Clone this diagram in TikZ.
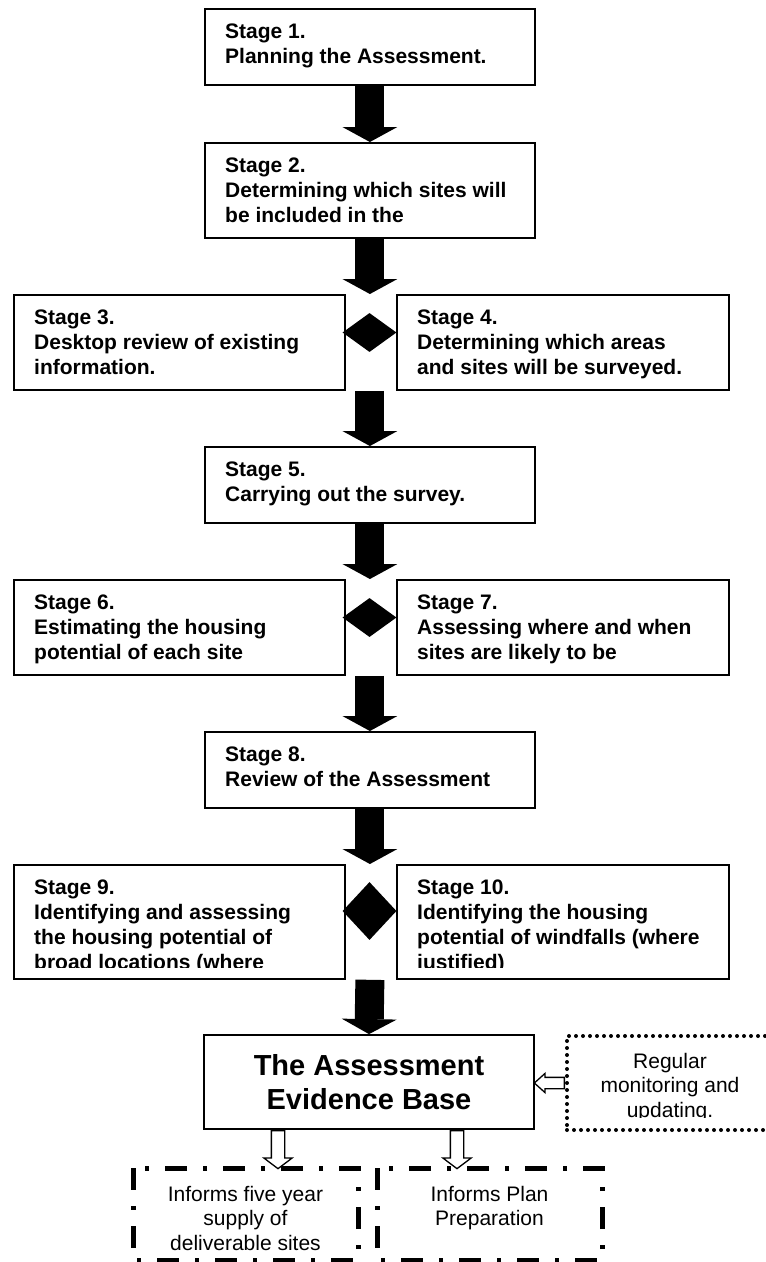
\documentclass[tikz,border=0pt]{standalone}
\usepackage{fontspec}
\setmainfont{Liberation Sans}
\usetikzlibrary{arrows.meta,shapes}
\tikzset{
  stagebox/.style={draw, line width=1.8pt, inner sep=0pt, anchor=north west},
  stagetext/.style={anchor=north west, inner sep=0pt, align=left, font=\fontsize{21}{25}\selectfont\bfseries},
  blockarrow/.style={line width=29pt, -{Triangle[length=15pt,width=55pt,line width=0pt]}},
  junction/.style={diamond, fill=black, inner sep=0pt, minimum width=54pt},
  hollowarrow/.style={single arrow, draw, fill=white, line width=1.3pt, inner xsep=0pt, single arrow head indent=0pt, anchor=tail},
  frame/.style={inner sep=0pt, outer sep=0pt, anchor=north west},
  dashdot/.style={line width=5pt, line join=miter, dash pattern=on 22pt off 16pt on 4pt off 16pt},
  dotbox/.style={draw, line width=4pt, line cap=round, dash pattern=on 0pt off 7pt, inner sep=0pt, anchor=north west},
  plaintext/.style={anchor=north, inner sep=0pt, align=center, font=\fontsize{21}{24.5}\selectfont}
}
\newcommand*{\stage}[6]{%
  \node[stagebox, minimum width=#5pt, minimum height=#4pt] (#1) at (#2,#3) {};
  \begin{scope}
    \clip (#2,#3) rectangle ++(#5,#4-11);
    \node[stagetext] (#1t) at ([shift={(21,16)}]#1.north west) {#6};
  \end{scope}}

\begin{document}
\begin{tikzpicture}[x=1pt,y=-1pt]
\useasboundingbox (0,0) rectangle (766,1262);

\stage{s1}{204}{8}{76}{330}{Stage 1.\\Planning the Assessment.}
\stage{s2}{204}{142}{95}{330}{Stage 2.\\Determining which sites will\\be included in the}
\stage{s3}{13}{294}{95}{331}{Stage 3.\\Desktop review of existing\\information.}
\stage{s4}{396}{294}{95}{332}{Stage 4.\\Determining which areas\\and sites will be surveyed.}
\stage{s5}{204}{446}{76}{330}{Stage 5.\\Carrying out the survey.}
\stage{s6}{13}{579}{95}{331}{Stage 6.\\Estimating the housing\\potential of each site}
\stage{s7}{396}{579}{95}{332}{Stage 7.\\Assessing where and when\\sites are likely to be}
\stage{s8}{204}{731}{76}{330}{Stage 8.\\Review of the Assessment}
\stage{s9}{13}{864}{114}{331}{Stage 9.\\Identifying and assessing\\the housing potential of\\broad locations (where}
\stage{s10}{396}{864}{114}{332}{Stage 10.\\Identifying the housing\\potential of windfalls (where\\justified)}

\node[junction, minimum height=39pt] (d34) at (369.5,332.5) {};
\node[junction, minimum height=39pt] (d67) at (369.5,617.5) {};
\node[junction, minimum height=58pt] (d910) at (369.5,911) {};

\node[draw, line width=1.8pt, minimum width=330pt, minimum height=94pt, align=center,
  font=\fontsize{29}{34}\selectfont\bfseries] (ev) at (369,1082) {The Assessment\\Evidence Base};

\draw[blockarrow] (s1.south) -- (s2.north);
\draw[blockarrow] (s2.south) -- (s2.south |- s3.north);
\draw[blockarrow] (s2.south |- s3.south) -- (s5.north);
\draw[blockarrow] (s5.south) -- (s5.south |- s6.north);
\draw[blockarrow] (s5.south |- s6.south) -- (s8.north);
\draw[blockarrow] (s8.south) -- (s8.south |- s9.north);
\draw[blockarrow] (s8.south |- s9.south) -- (ev.north);

\node[dotbox, minimum width=206pt, minimum height=94pt] (reg) at (565,1034) {};
\begin{scope}
  \clip (565,1034) rectangle (771,1117);
  \node[plaintext] (regt) at ([shift={(0,19)}]reg.north) {Regular\\monitoring and\\updating.};
\end{scope}

\node[frame, minimum width=225pt, minimum height=92pt] (fa) at (133,1168) {};
\node[frame, minimum width=225pt, minimum height=92pt] (fb) at (377,1168) {};
\draw[dashdot] (fa.north west) -- (fa.south west) -- (fa.south east) -- (fa.north east) -- cycle;
\draw[dashdot] (fb.north west) -- (fb.south west) -- (fb.south east) -- (fb.north east) -- cycle;
\node[plaintext] (fat) at ([shift={(0,18)}]fa.north) {Informs five year\\supply of\\deliverable sites};
\node[plaintext] (fbt) at ([shift={(0,18)}]fb.north) {Informs Plan\\Preparation};

\node[hollowarrow, rotate=-90, minimum height=38pt, inner ysep=6pt, single arrow head extend=7.5pt, single arrow tip angle=106] (h1) at (278,1130) {};
\node[hollowarrow, rotate=-90, minimum height=38pt, inner ysep=6pt, single arrow head extend=7.5pt, single arrow tip angle=106] (h2) at (457,1130) {};
\node[hollowarrow, rotate=180, minimum height=30pt, inner ysep=5pt, single arrow head extend=4pt, single arrow tip angle=84] (h3) at (reg.west) {};
\end{tikzpicture}
\end{document}
